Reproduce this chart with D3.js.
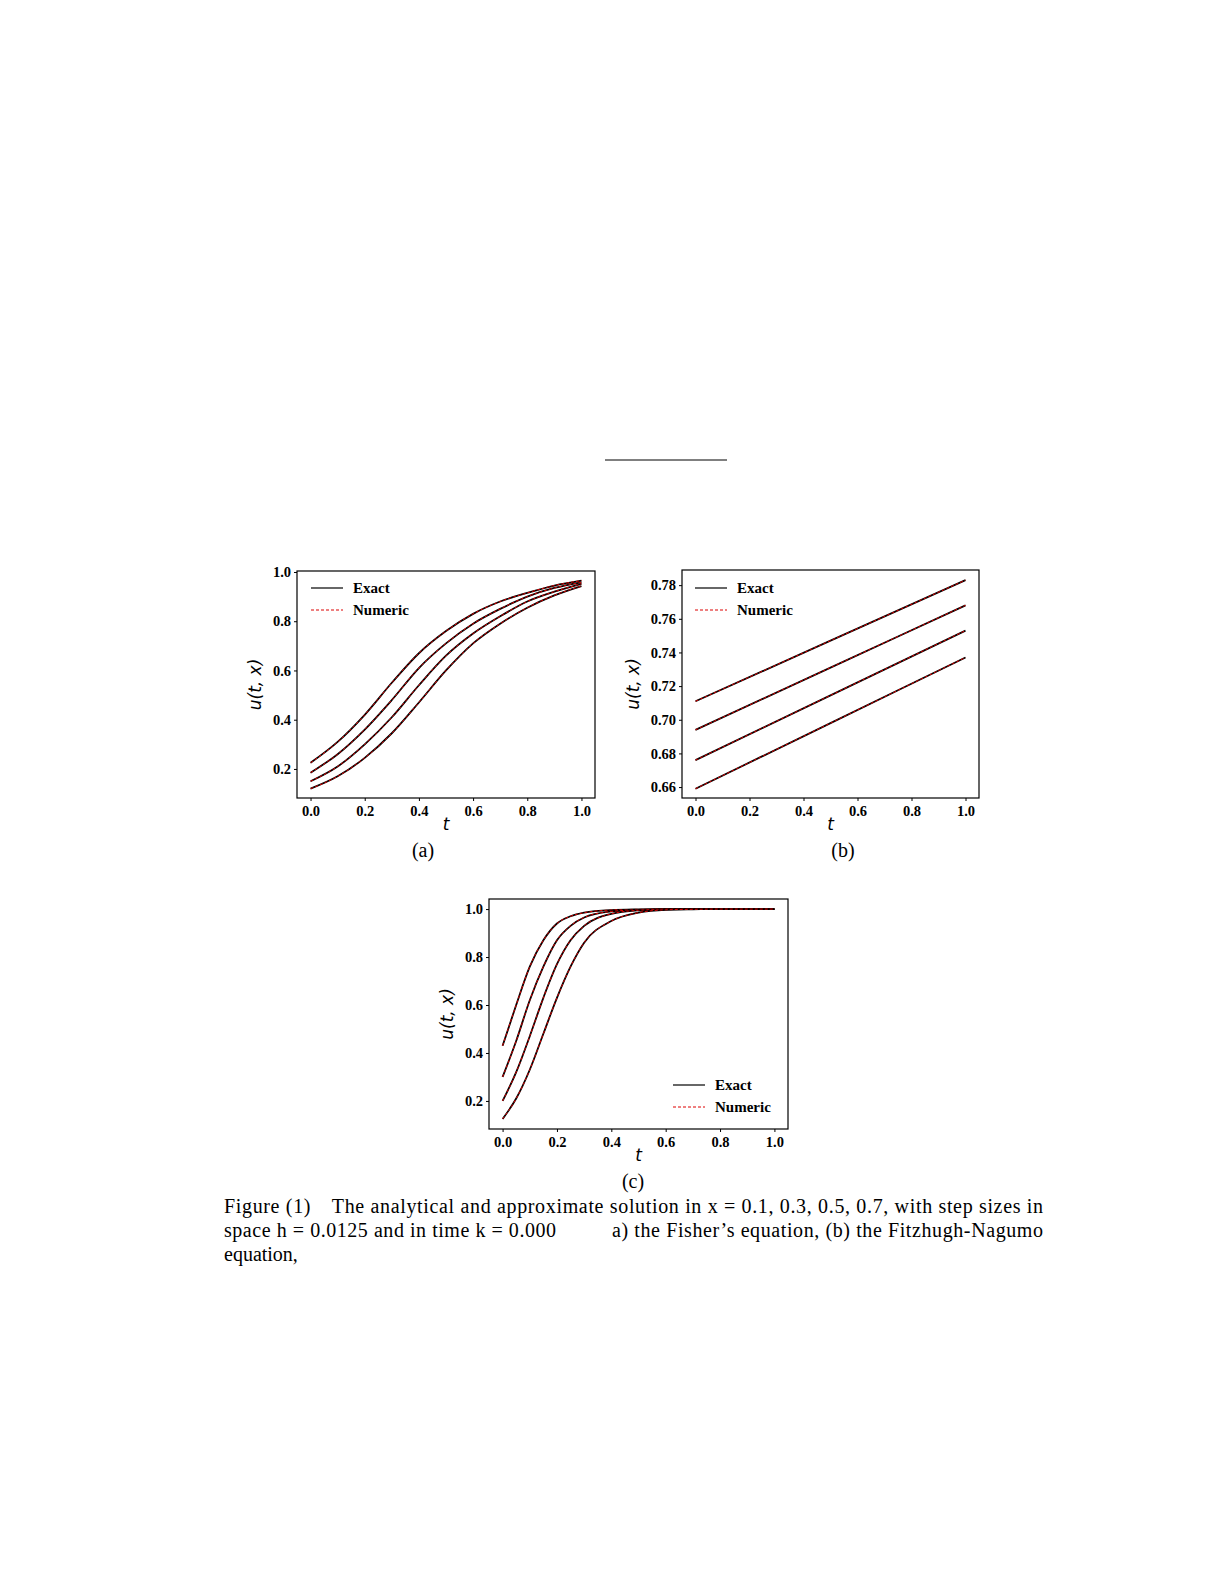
<!DOCTYPE html>
<html>
<head>
<meta charset="utf-8">
<script src="https://cdn.jsdelivr.net/npm/d3@7"></script>
<style>
  html, body { margin: 0; background: #fff; overflow: hidden; }
  svg { display: block; }
  svg text { fill: #000; }
</style>
</head>
<body>
<svg id="fig" width="1225" height="1585"></svg>
<script>
// Panel (a): Fisher's equation
const tA = [0, 0.1, 0.2, 0.3, 0.4, 0.5, 0.6, 0.7, 0.8, 0.9, 1.0];
const uA = [
  [0.225, 0.31, 0.42, 0.55, 0.67, 0.76, 0.83, 0.88, 0.915, 0.945, 0.965],
  [0.185, 0.26, 0.36, 0.48, 0.61, 0.71, 0.79, 0.85, 0.90, 0.935, 0.958],
  [0.15, 0.21, 0.30, 0.41, 0.54, 0.66, 0.75, 0.82, 0.88, 0.92, 0.952],
  [0.12, 0.17, 0.245, 0.345, 0.47, 0.60, 0.71, 0.79, 0.855, 0.905, 0.943]
];
// Panel (b): Fitzhugh-Nagumo
const tB = [0, 0.5, 1.0];
const uB = [
  [0.711, 0.747, 0.783],
  [0.694, 0.731, 0.768],
  [0.676, 0.7145, 0.753],
  [0.659, 0.698, 0.737]
];
// Panel (c)
const tC = [0, 0.05, 0.1, 0.15, 0.2, 0.25, 0.3, 0.4, 0.5, 0.6, 0.7, 0.8, 1.0];
const uC = [
  [0.43, 0.60, 0.76, 0.87, 0.94, 0.97, 0.985, 0.996, 0.999, 1, 1, 1, 1],
  [0.30, 0.45, 0.62, 0.76, 0.87, 0.93, 0.965, 0.99, 0.997, 1, 1, 1, 1],
  [0.20, 0.32, 0.47, 0.63, 0.77, 0.87, 0.93, 0.98, 0.995, 0.999, 1, 1, 1],
  [0.125, 0.21, 0.33, 0.48, 0.63, 0.76, 0.86, 0.95, 0.985, 0.997, 0.999, 1, 1]
];
const xTicks = [0, 0.2, 0.4, 0.6, 0.8, 1.0];
const yTicksA = [0.2, 0.4, 0.6, 0.8, 1.0];
const yTicksB = [0.66, 0.68, 0.70, 0.72, 0.74, 0.76, 0.78];
const yTicksC = [0.2, 0.4, 0.6, 0.8, 1.0];

const svg = d3.select("#fig");

function panel(o) {
  const g = svg.append("g");
  const x = d3.scaleLinear().domain([-0.05, 1.05]).range([o.left, o.right]);
  const y = d3.scaleLinear().domain(o.ydom).range([o.bottom, o.top]);

  const line = d3.line().x(d => x(d[0])).y(d => y(d[1])).curve(d3.curveMonotoneX);
  o.u.forEach(s => {
    const pts = o.t.map((t, i) => [t, s[i]]);
    g.append("path").attr("d", line(pts)).attr("fill", "none")
      .attr("stroke", "#000").attr("stroke-width", 1.8);
    g.append("path").attr("d", line(pts)).attr("fill", "none")
      .attr("stroke", "#d00").attr("stroke-width", 1).attr("stroke-dasharray", "3,2");
  });

  g.append("rect").attr("x", o.left).attr("y", o.top)
    .attr("width", o.right - o.left).attr("height", o.bottom - o.top)
    .attr("fill", "none").attr("stroke", "#000").attr("stroke-width", 1.2);

  const xa = g.append("g").attr("transform", `translate(0,${o.bottom})`)
    .call(d3.axisBottom(x).tickValues(xTicks).tickFormat(d3.format(".1f")).tickSize(3));
  const ya = g.append("g").attr("transform", `translate(${o.left},0)`)
    .call(d3.axisLeft(y).tickValues(o.yticks).tickFormat(d3.format(o.yfmt)).tickSize(3));
  [xa, ya].forEach(a => {
    a.select(".domain").remove();
    a.selectAll("text").attr("font-family", "Liberation Serif").attr("font-weight", "bold")
      .attr("font-size", 14.5);
  });
  xa.selectAll("text").attr("dy", "0.8em");

  g.append("text").attr("x", (o.left + o.right) / 2).attr("y", o.bottom + 32)
    .attr("text-anchor", "middle").attr("font-family", "DejaVu Sans")
    .attr("font-style", "italic").attr("font-size", 17).text("t");
  g.append("text").attr("transform", `translate(${o.left - o.ylab},${(o.top + o.bottom) / 2}) rotate(-90)`)
    .attr("text-anchor", "middle").attr("font-family", "DejaVu Sans")
    .attr("font-style", "italic").attr("font-size", 17).text("u(t, x)");

  // legend
  const lg = g.append("g").attr("transform", `translate(${o.lx},${o.ly})`);
  lg.append("line").attr("x1", 0).attr("x2", 32).attr("stroke", "#000").attr("stroke-width", 1.2);
  lg.append("line").attr("x1", 0).attr("x2", 32).attr("y1", 22).attr("y2", 22)
    .attr("stroke", "#d00").attr("stroke-width", 1).attr("stroke-dasharray", "3,2");
  ["Exact", "Numeric"].forEach((s, i) => {
    lg.append("text").attr("x", 42).attr("y", i * 22 + 5).attr("font-family", "Liberation Serif")
      .attr("font-weight", "bold").attr("font-size", 15).text(s);
  });

  svg.append("text").attr("x", o.capx).attr("y", o.bottom + 59).attr("text-anchor", "middle")
    .attr("font-family", "Liberation Serif").attr("font-size", 20).text(o.cap);
}

panel({ left: 297, right: 595, top: 571, bottom: 798, ydom: [0.082, 1.004], t: tA, u: uA,
  yticks: yTicksA, yfmt: ".1f", ylab: 36, lx: 311, ly: 588, capx: 423, cap: "(a)" });
panel({ left: 682, right: 979, top: 570, bottom: 798, ydom: [0.6535, 0.789], t: tB, u: uB,
  yticks: yTicksB, yfmt: ".2f", ylab: 43, lx: 695, ly: 588, capx: 843, cap: "(b)" });
panel({ left: 489, right: 788, top: 899, bottom: 1129, ydom: [0.083, 1.042], t: tC, u: uC,
  yticks: yTicksC, yfmt: ".1f", ylab: 36, lx: 673, ly: 1085, capx: 633, cap: "(c)" });

// footnote rule
svg.append("line").attr("x1", 605).attr("x2", 727).attr("y1", 460).attr("y2", 460)
  .attr("stroke", "#000").attr("stroke-width", 1);

// caption
const cap = [
  { x: 224, y: 1213, w: 819, s: "Figure (1)\u2003The analytical and approximate solution in x = 0.1, 0.3, 0.5, 0.7, with step sizes in" },
  { x: 224, y: 1237, w: 332, s: "space h = 0.0125 and in time k = 0.000" },
  { x: 612, y: 1237, w: 431, s: "a) the Fisher\u2019s equation, (b) the Fitzhugh-Nagumo" },
  { x: 224, y: 1261, w: 0, s: "equation," }
];
cap.forEach(c => {
  const t = svg.append("text").attr("x", c.x).attr("y", c.y).attr("font-family", "Liberation Serif")
    .attr("font-size", 20).text(c.s);
  if (c.w) t.attr("textLength", c.w).attr("lengthAdjust", "spacing");
});
</script>
</body>
</html>
